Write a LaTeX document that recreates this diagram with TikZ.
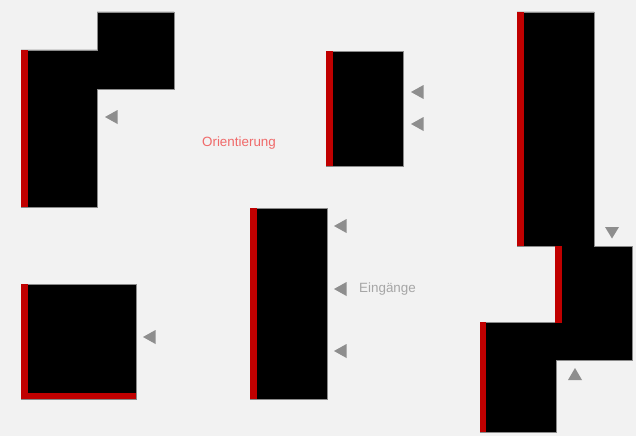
\documentclass[tikz,border=0pt]{standalone}
\usepackage{fontspec}
\setmainfont{Liberation Sans}
\definecolor{bg}{HTML}{F2F2F2}
\definecolor{brick}{HTML}{C00000}
\definecolor{tri}{HTML}{8E8E8E}
\definecolor{edge}{HTML}{8A8A8A}
\definecolor{orient}{HTML}{F06A6A}
\definecolor{ein}{HTML}{A6A6A6}
\tikzset{
  block/.style={fill=black, draw=edge, line width=0.8pt},
  redbar/.style={fill=brick},
  arr/.style={fill=tri},
  lbl/.style={font=\fontsize{13.4}{15}\selectfont, inner sep=0pt}
}
\begin{document}
\begin{tikzpicture}[x=1pt,y=-1pt]
\fill[bg] (0,0) rectangle (636,436);
\useasboundingbox (0,0) rectangle (636,436);
% shape 1
\path[block] (21,50) -- (97,50) -- (97,12) -- (174,12) -- (174,89) -- (97,89) -- (97,207) -- (21,207) -- cycle;
\fill[redbar] (21,50) rectangle (28,207);
% shape 2
\path[block] (326,51) rectangle (403,166);
\fill[redbar] (326,51) rectangle (333,166);
% shape 3
\path[block] (517,12) -- (594,12) -- (594,246) -- (632,246) -- (632,360) -- (556,360) -- (556,432) -- (480,432) -- (480,322) -- (555,322) -- (555,246) -- (517,246) -- cycle;
\fill[redbar] (517,12) rectangle (524,246);
\fill[redbar] (555,246) rectangle (562,323);
\fill[redbar] (480,322) rectangle (486,432);
% shape 4
\path[block] (21,284) rectangle (136,399);
\fill[redbar] (21,284) rectangle (28,399);
\fill[redbar] (21,393) rectangle (136,399);
% shape 5
\path[block] (250,208) rectangle (327,399);
\fill[redbar] (250,208) rectangle (257,399);
% arrows (left)
\foreach \x/\y in {105/117, 411/92, 411/124, 143/337, 334/226, 334/289, 334/351}
  \fill[arr] (\x,\y) -- (\x+12.5,\y-7) -- (\x+12.5,\y+7) -- cycle;
% down arrow
\fill[arr] (605,227) -- (619,227) -- (612,238.5) -- cycle;
% up arrow
\fill[arr] (568,380) -- (582,380) -- (575,368) -- cycle;
% labels
\node[lbl, text=orient] (orient) at (239,143.5) {Orientierung};
\node[lbl, text=ein, anchor=west] (ein) at (359,289) {Eingänge};
\end{tikzpicture}
\end{document}
